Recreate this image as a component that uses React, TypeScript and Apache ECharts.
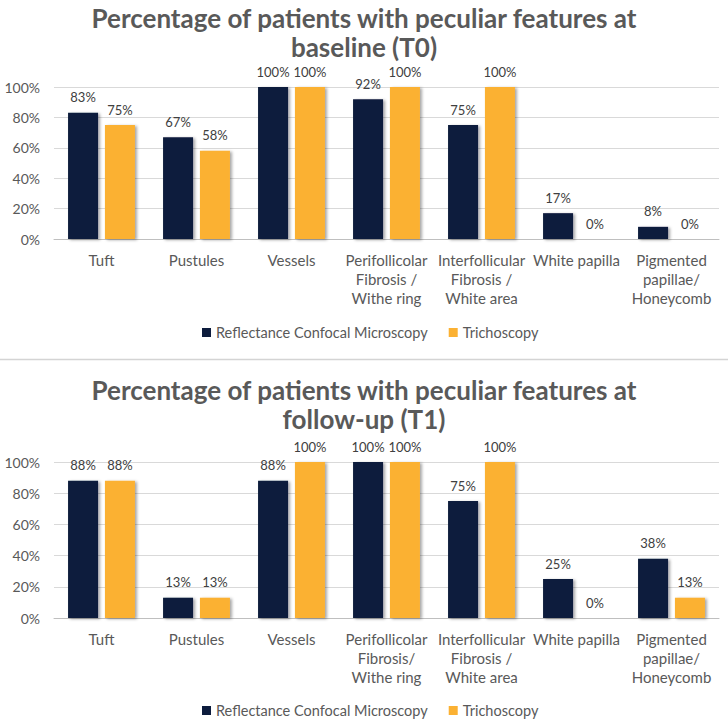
import React, { useEffect, useRef } from "react";
import * as echarts from "echarts";

const categoriesT0 = [
  "Tuft",
  "Pustules",
  "Vessels",
  "Perifollicolar\nFibrosis /\nWithe ring",
  "Interfollicular\nFibrosis /\nWhite area",
  "White papilla",
  "Pigmented\npapillae/\nHoneycomb",
];
const categoriesT1 = [
  "Tuft",
  "Pustules",
  "Vessels",
  "Perifollicolar\nFibrosis/\nWithe ring",
  "Interfollicular\nFibrosis /\nWhite area",
  "White papilla",
  "Pigmented\npapillae/\nHoneycomb",
];
const rcmT0 = [83, 67, 100, 92, 75, 17, 8];
const trichoT0 = [75, 58, 100, 100, 100, 0, 0];
const rcmT1 = [88, 13, 88, 100, 75, 25, 38];
const trichoT1 = [88, 13, 100, 100, 100, 0, 13];
const seriesNames = ["Reflectance Confocal Microscopy", "Trichoscopy"];
const titles = [
  "Percentage of patients with peculiar features at\nbaseline (T0)",
  "Percentage of patients with peculiar features at\nfollow-up (T1)",
];

const NAVY = "#0D1C3D";
const ORANGE = "#FBB133";
const FONT = "Lato, 'Open Sans', sans-serif";

export default function App() {
  const ref = useRef<HTMLDivElement>(null);
  useEffect(() => {
    if (!ref.current) return;
    const chart = echarts.init(ref.current, null, { renderer: "svg" });
    const grids = [
      { left: 54, width: 665, top: 87, height: 152 },
      { left: 54, width: 665, top: 462, height: 156 },
    ];
    const cats = [categoriesT0, categoriesT1];
    const data = [
      [rcmT0, trichoT0],
      [rcmT1, trichoT1],
    ];
    const colors = [NAVY, ORANGE];
    const series: any[] = [];
    data.forEach((pair, gi) => {
      pair.forEach((vals, si) => {
        series.push({
          type: "bar",
          name: seriesNames[si],
          xAxisIndex: gi,
          yAxisIndex: gi,
          data: vals,
          barWidth: 30,
          barGap: "23%",
          itemStyle: {
            color: colors[si],
            shadowColor: "rgba(0,0,0,0.35)",
            shadowBlur: 3,
            shadowOffsetX: 2,
            shadowOffsetY: 1,
          },
          label: {
            show: true,
            position: "top",
            distance: 9,
            formatter: "{c}%",
            color: "#404040",
            fontSize: 13,
            fontFamily: FONT,
          },
        });
      });
    });
    chart.setOption({
      animation: false,
      backgroundColor: "#ffffff",
      textStyle: { fontFamily: FONT },
      title: titles.map((t, i) => ({
        text: t,
        left: 364,
        textAlign: "center",
        top: i === 0 ? 3 : 375,
        padding: 0,
        textStyle: {
          fontSize: 26,
          fontWeight: "bold",
          color: "#595959",
          lineHeight: 29,
          fontFamily: FONT,
        },
      })),
      legend: [320, 698].map((top) => ({
        data: seriesNames,
        top,
        left: 197,
        icon: "rect",
        itemWidth: 9,
        itemHeight: 9,
        itemGap: 21,
        textStyle: { fontSize: 14.5, color: "#595959", fontFamily: FONT },
      })),
      grid: grids,
      xAxis: cats.map((c, i) => ({
        type: "category",
        gridIndex: i,
        data: c,
        axisTick: { show: false },
        axisLine: { lineStyle: { color: "#bfbfbf", width: 1 } },
        axisLabel: {
          interval: 0,
          margin: 11,
          fontSize: 15,
          lineHeight: 19,
          color: "#595959",
          fontFamily: FONT,
        },
      })),
      yAxis: [0, 1].map((i) => ({
        type: "value",
        gridIndex: i,
        min: 0,
        max: 100,
        interval: 20,
        axisLine: { show: false },
        axisTick: { show: false },
        splitLine: { lineStyle: { color: "#d9d9d9", width: 1 } },
        axisLabel: {
          formatter: "{value}%",
          margin: 14,
          fontSize: 14,
          color: "#595959",
          fontFamily: FONT,
        },
      })),
      graphic: [
        {
          type: "line",
          shape: { x1: 0, y1: 359.5, x2: 728, y2: 359.5 },
          style: { stroke: "#d4d4d4", lineWidth: 1.5 },
        },
      ],
      series,
    });
    return () => chart.dispose();
  }, []);
  return (
    <div
      ref={ref}
      style={{ position: "absolute", left: 0, top: 0, width: 728, height: 726, background: "#fff" }}
    />
  );
}
